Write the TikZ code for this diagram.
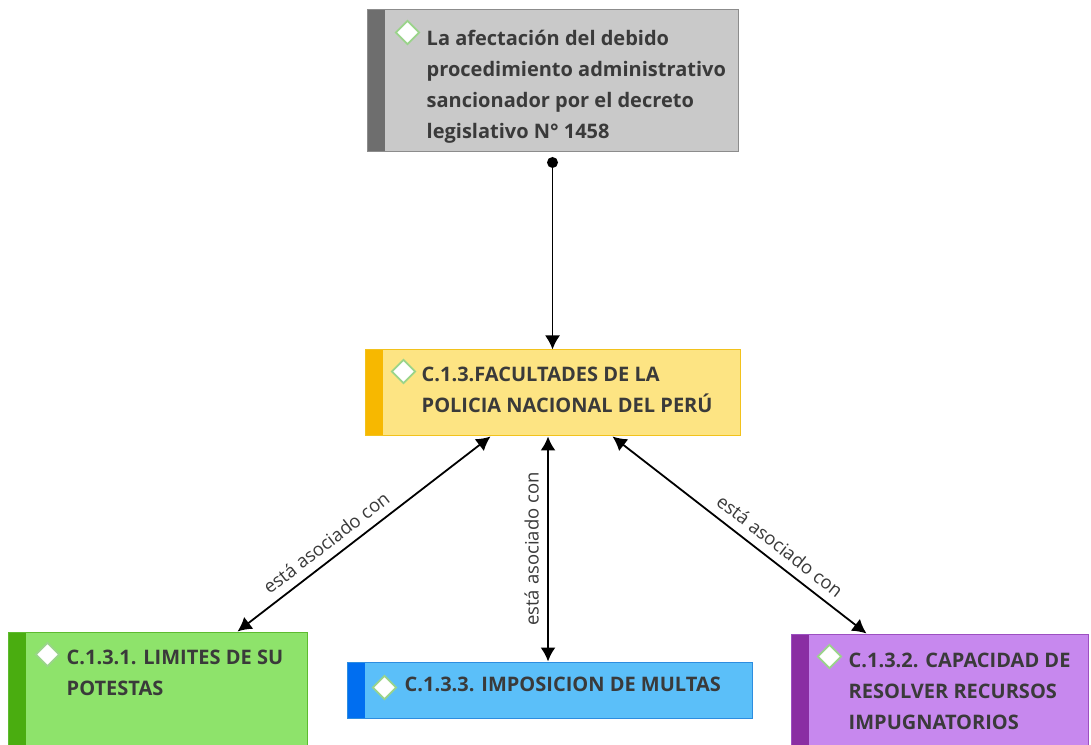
\documentclass[tikz,border=0pt]{standalone}
\usepackage{fontspec}
\setmainfont{Open Sans}
\usetikzlibrary{arrows.meta, shapes.geometric, positioning, calc}
\definecolor{txtgray}{HTML}{3A3A3A}
\definecolor{grayfill}{HTML}{C9C9C9}
\definecolor{grayline}{HTML}{8C8C8C}
\definecolor{graystrip}{HTML}{6E6E6E}
\definecolor{yelfill}{HTML}{FDE483}
\definecolor{yelline}{HTML}{F2C21C}
\definecolor{yelstrip}{HTML}{F7B800}
\definecolor{grnfill}{HTML}{8EE36B}
\definecolor{grnline}{HTML}{5DBB2F}
\definecolor{grnstrip}{HTML}{4AAD10}
\definecolor{bluefill}{HTML}{5BBFF9}
\definecolor{blueline}{HTML}{2D8DE0}
\definecolor{bluestrip}{HTML}{006EF0}
\definecolor{purfill}{HTML}{C788EE}
\definecolor{purline}{HTML}{9C50C0}
\definecolor{purstrip}{HTML}{8A2EA3}
\definecolor{diamline}{HTML}{9AD48A}
\tikzset{
  mapbox/.style n args={3}{draw=#2, fill=#1, line width=1pt, inner sep=0pt,
    path picture={\fill[#3] (path picture bounding box.north west)
      rectangle ([xshift=18pt]path picture bounding box.south west);}},
  maptext/.style={anchor=north west, inner sep=0pt, align=left,
    font=\fontsize{20}{31}\selectfont\bfseries, text=txtgray},
  diam/.style={shape=diamond, draw=diamline, fill=white, line width=1.8pt,
    minimum width=24pt, minimum height=24pt, inner sep=0pt},
  linkline/.style={line width=1.8pt, <->},
  linklabel/.style={font=\fontsize{18.5}{20}\selectfont, text=txtgray, sloped}
}
\begin{document}
\begin{tikzpicture}[x=1pt,y=1pt,>={Latex[length=14pt,width=15pt]}]
  \clip (0,0) rectangle (1091,744);
  \fill[white] (0,0) rectangle (1091,744);
  % boxes
  \node[mapbox={grayfill}{grayline}{graystrip}, minimum width=371pt, minimum height=142pt] (dec) at (552.5,663) {};
  \node[mapbox={yelfill}{yelline}{yelstrip}, minimum width=375pt, minimum height=86pt] (fac) at (552.5,351) {};
  \node[mapbox={grnfill}{grnline}{grnstrip}, minimum width=299pt, minimum height=124pt] (lim) at (157.5,50) {};
  \node[mapbox={bluefill}{blueline}{bluestrip}, minimum width=405pt, minimum height=56pt] (mul) at (549.5,54) {};
  \node[mapbox={purfill}{purline}{purstrip}, minimum width=297pt, minimum height=124pt] (cap) at (939.5,48) {};
  % icons
  \node[diam] (decd) at ($(dec.north west)+(41,-23)$) {};
  \node[diam] (facd) at ($(fac.north west)+(39,-22)$) {};
  \node[diam] (limd) at ($(lim.north west)+(40,-23)$) {};
  \node[diam] (muld) at ($(mul.north west)+(38,-26)$) {};
  \node[diam] (capd) at ($(cap.north west)+(39,-23)$) {};
  % texts
  \node[maptext] (dect) at ($(dec.north west)+(60,-20)$) {La afectación del debido\\procedimiento administrativo\\sancionador por el decreto\\legislativo N° 1458};
  \node[maptext] (fact) at ($(fac.north west)+(57,-17)$) {C.1.3.FACULTADES DE LA\\POLICIA NACIONAL DEL PERÚ};
  \node[maptext] (limt) at ($(lim.north west)+(59,-18)$) {C.1.3.1. LIMITES DE SU\\POTESTAS};
  \node[maptext] (mult) at ($(mul.north west)+(58,-15)$) {C.1.3.3. IMPOSICION DE MULTAS};
  \node[maptext] (capt) at ($(cap.north west)+(58,-19)$) {C.1.3.2. CAPACIDAD DE\\RESOLVER RECURSOS\\IMPUGNATORIOS};
  % links
  \coordinate (dot) at ([yshift=-10pt]dec.south);
  \fill (dot) circle (5.5pt);
  \draw[line width=1.8pt, ->] (dot) -- (dot |- fac.north);
  \draw[linkline] ([xshift=80pt]lim.north) -- node[linklabel, above=5pt, pos=0.39] {está asociado con} ([xshift=-62pt]fac.south);
  \draw[linkline] ([xshift=-1.5pt]mul.north) -- node[linklabel, above=5pt, pos=0.5] {está asociado con} ([xshift=-4.5pt]fac.south);
  \draw[linkline] ([xshift=60pt]fac.south) -- node[linklabel, above=5pt, pos=0.62] {está asociado con} ([xshift=-73pt]cap.north);
\end{tikzpicture}
\end{document}
